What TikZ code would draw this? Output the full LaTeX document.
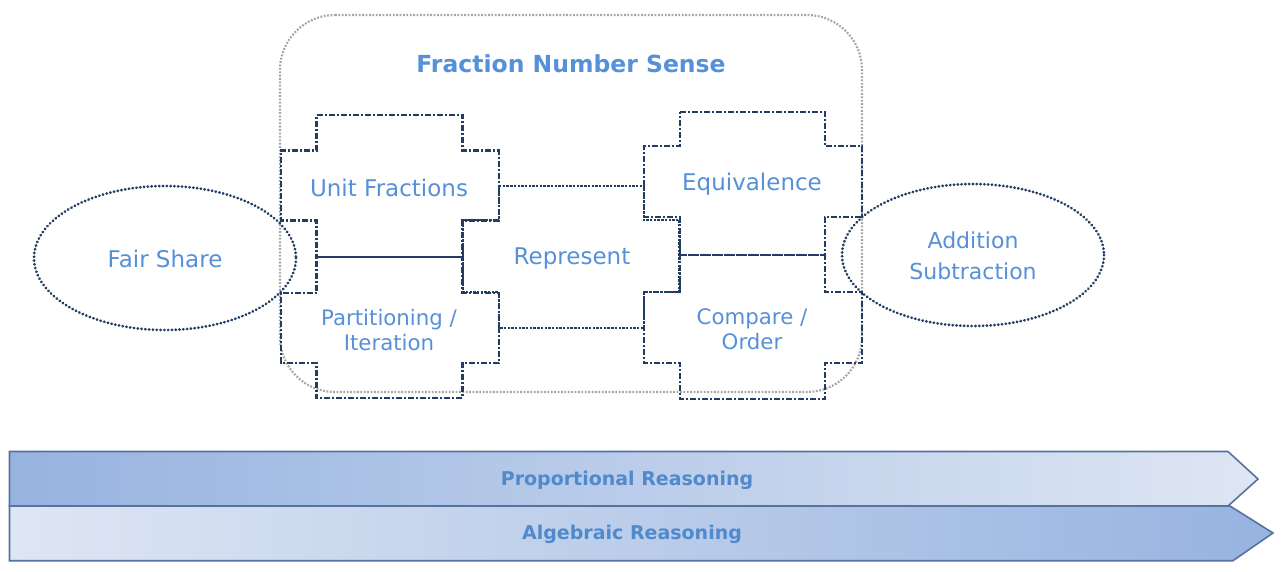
\documentclass[tikz,border=0pt]{standalone}
\usepackage{fontspec}
\setmainfont{DejaVu Sans}
\usetikzlibrary{calc}
\definecolor{navy}{HTML}{223C62}
\definecolor{txt}{HTML}{5590D8}
\definecolor{frame}{HTML}{A5A5A5}
\definecolor{arrbd}{HTML}{55739E}
\definecolor{arrdark}{HTML}{97B3E0}
\definecolor{arrlight}{HTML}{DEE6F3}
\newcommand{\mycross}[9][]{%
  \draw[#1] (#2,#4) -- (#3,#4) -- (#3,#8) -- (#7,#8) -- (#7,#9) -- (#3,#9) -- (#3,#5)
    -- (#2,#5) -- (#2,#9) -- (#6,#9) -- (#6,#8) -- (#2,#8) -- cycle;}
\begin{document}
\begin{tikzpicture}[x=1pt,y=-1pt,
  piece/.style={draw=navy,line width=2.7pt,dash pattern=on 6pt off 2pt on 2pt off 2pt},
  mid/.style={draw=navy,line width=2.6pt,dash pattern=on 2.4pt off 1.3pt},
  oval/.style={draw=navy,line width=2.9pt,dash pattern=on 0.2pt off 3.6pt,line cap=round},
  lbl/.style={text=txt,font=\fontsize{23}{27}\selectfont,align=center},
  lbls/.style={text=txt,font=\fontsize{21.3}{26}\selectfont,align=center},
  bandtxt/.style={text=txt!95!black,font=\bfseries\fontsize{19}{22}\selectfont}]
\useasboundingbox (0,0) rectangle (1286,571);
% outer frame
\draw[frame,line width=2.2pt,dash pattern=on 1.8pt off 1.6pt]
  (335,15) -- (807,15) arc[start angle=270,end angle=360,radius=55]
  -- (862,337) arc[start angle=0,end angle=90,radius=55]
  -- (335,392) arc[start angle=90,end angle=180,radius=55]
  -- (280,70) arc[start angle=180,end angle=270,radius=55] -- cycle;
\node[text=txt,font=\bfseries\fontsize{23.5}{28}\selectfont] (title) at (571,64) {Fraction Number Sense};
% puzzle pieces
\mycross[piece]{316.7}{462.7}{115}{257}{281}{499}{150.7}{220.7}
\mycross[piece]{316.7}{462.7}{257}{398}{281}{499}{293}{363}
\mycross[piece]{680}{825}{112}{255}{644}{862}{146}{217}
\mycross[piece]{680}{825}{255}{399}{644}{862}{292}{363}
\mycross[mid]{499}{644}{186}{328}{463}{679.5}{220}{292}
\draw[navy,line width=2.6pt] (316.7,257) -- (462.7,257);
% labels
\node[lbl] (uf) at (389,188) {Unit Fractions};
\node[lbl] (eq) at (752,184) {Equivalence};
\node[lbl] (re) at (572,259) {Represent};
\node[lbls] (pi) at (389,330) {Partitioning /\\[-1pt]Iteration};
\node[lbls] (co) at (752,329) {Compare /\\[-1pt]Order};
% ellipses
\draw[oval] (165,258) ellipse [x radius=131,y radius=72];
\draw[oval] (973,255) ellipse [x radius=131,y radius=71];
\node[lbl] (fs) at (165,259) {Fair Share};
\node[lbl,font=\fontsize{22}{27}\selectfont] (as) at (973,256) {Addition\\[4pt]Subtraction};
% bands
\path[draw=arrbd,line width=1.6pt,left color=arrdark,right color=arrlight]
  (9.5,451.5) -- (1228,451.5) -- (1258,479) -- (1228,506) -- (9.5,506) -- cycle;
\path[draw=arrbd,line width=1.6pt,left color=arrlight,right color=arrdark]
  (9.5,506) -- (1230,506) -- (1273,533) -- (1233,560.7) -- (9.5,560.7) -- cycle;
\node[bandtxt] (pr) at (627,480) {Proportional Reasoning};
\node[bandtxt] (ar) at (632,534) {Algebraic Reasoning};
\end{tikzpicture}
\end{document}
